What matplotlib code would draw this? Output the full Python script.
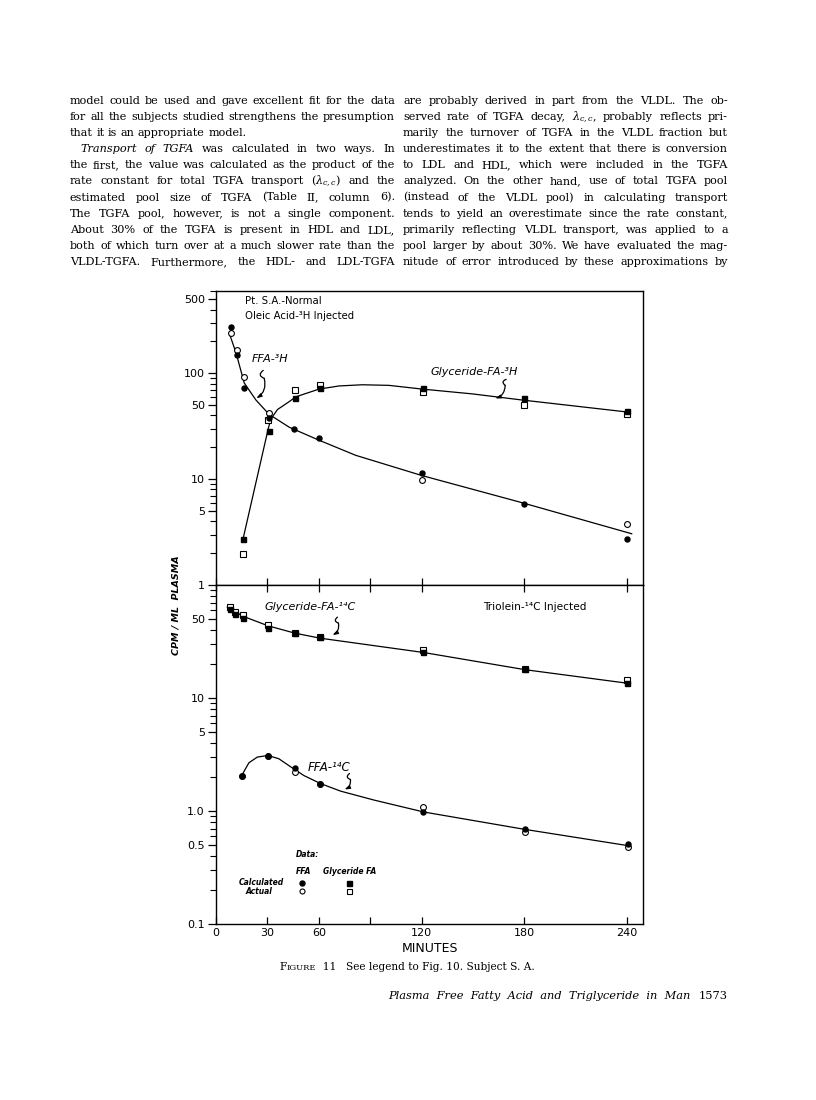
import matplotlib
matplotlib.use("Agg")
import matplotlib.pyplot as plt
import matplotlib.transforms as mtransforms
from matplotlib.ticker import FixedLocator, LogLocator, NullFormatter

plt.rcParams["font.family"] = ["DejaVu Sans"]
plt.rcParams["mathtext.fontset"] = "dejavuserif"

# --- top panel: oleic acid-3H injected ---
TIME_FFA3H_CALC = [9, 12, 16.5, 31, 45.5, 60, 120, 180, 240]
FFA3H_CALC = [275, 150, 73, 38, 29.5, 24.5, 11.5, 5.8, 2.7]
TIME_FFA3H_ACT = [9, 12, 16.5, 31, 120, 240]
FFA3H_ACT = [240, 165, 92, 42, 9.9, 3.8]
TIME_GLY3H_CALC = [15.5, 31, 46, 61, 121, 180, 240]
GLY3H_CALC = [2.7, 28.7, 59, 72, 72, 58, 44.5]
TIME_GLY3H_ACT = [15.5, 30.5, 46, 61, 121, 180, 240]
GLY3H_ACT = [1.95, 36, 69, 77, 67, 50, 41]

# hand-drawn fitted curves
FFA3H_FIT_T = [8.2, 11.7, 16.5, 23.3, 31, 42.7, 60, 81.6, 120.4, 178.6, 242.7]
FFA3H_FIT = [228, 156, 81, 56, 41, 31, 23.4, 16.8, 10.8, 6.0, 3.05]
GLY3H_FIT_T = [15.5, 30.5, 32, 35.9, 42.7, 46.6, 60.2, 71.8, 85.4, 101, 120.4, 149.5, 178.6, 240.8]
GLY3H_FIT = [2.6, 30, 37, 45.5, 54, 60, 71, 76, 78, 77, 71, 64, 56, 43]

# --- bottom panel: triolein-14C injected ---
TIME_GLY14C = [8, 11, 16, 30.5, 46, 61, 121, 180.5, 240]
GLY14C_CALC = [61, 55.5, 51.5, 42, 37.5, 34.5, 25.3, 18, 13.6]
GLY14C_ACT = [64, 58, 54, 44, 37.5, 34.5, 26.7, 18, 14.5]
TIME_FFA14C_CALC = [15, 30.5, 46, 61, 121, 180.5, 240.5]
FFA14C_CALC = [2.06, 3.06, 2.4, 1.75, 0.97, 0.70, 0.515]
TIME_FFA14C_ACT = [15, 30.5, 46, 61, 121, 180.5, 240.5]
FFA14C_ACT = [2.06, 3.06, 2.21, 1.75, 1.09, 0.65, 0.48]

GLY14C_FIT_T = [6.6, 16.3, 30.5, 46, 61, 121, 180.5, 242]
GLY14C_FIT = [63.5, 52.5, 43.5, 37.5, 33.8, 25.3, 17.8, 13.4]
FFA14C_FIT_T = [15, 19.2, 24.1, 30.3, 36.7, 43.6, 51.3, 61, 72.7, 92.2, 121.3, 179.7, 241.9]
FFA14C_FIT = [2.06, 2.67, 3.0, 3.1, 2.9, 2.46, 2.06, 1.75, 1.5, 1.25, 0.98, 0.69, 0.49]

X_TICKS = [0, 30, 60, 90, 120, 180, 240]
X_TICK_LABELS = ["0", "30", "60", "", "120", "180", "240"]
TOP_Y_TICKS = [1, 5, 10, 50, 100, 500]
TOP_Y_LABELS = ["1", "5", "10", "50", "100", "500"]
BOT_Y_TICKS = [0.1, 0.5, 1.0, 5, 10, 50]
BOT_Y_LABELS = ["0.1", "0.5", "1.0", "5", "10", "50"]

LEFT_COLUMN = [
    "model could be used and gave excellent fit for the data",
    "for all the subjects studied strengthens the presumption",
    "that it is an appropriate model.",
    "*Transport* *of* *TGFA* was calculated in two ways. In",
    "the first, the value was calculated as the product of the",
    r"rate constant for total TGFA transport ($\lambda_{c,c}$) and the",
    "estimated pool size of TGFA (Table II, column 6).",
    "The TGFA pool, however, is not a single component.",
    "About 30% of the TGFA is present in HDL and LDL,",
    "both of which turn over at a much slower rate than the",
    "VLDL-TGFA. Furthermore, the HDL- and LDL-TGFA",
]
RIGHT_COLUMN = [
    "are probably derived in part from the VLDL. The ob-",
    r"served rate of TGFA decay, $\lambda_{c,c}$, probably reflects pri-",
    "marily the turnover of TGFA in the VLDL fraction but",
    "underestimates it to the extent that there is conversion",
    "to LDL and HDL, which were included in the TGFA",
    "analyzed. On the other hand, use of total TGFA pool",
    "(instead of the VLDL pool) in calculating transport",
    "tends to yield an overestimate since the rate constant,",
    "primarily reflecting VLDL transport, was applied to a",
    "pool larger by about 30%. We have evaluated the mag-",
    "nitude of error introduced by these approximations by",
]

W, H = 816, 1100
fig = plt.figure(figsize=(W / 100, H / 100), dpi=100)
renderer = fig.canvas.get_renderer()
PIX = mtransforms.IdentityTransform()
SERIF = "DejaVu Serif"
BODY = 8.1
MIN_GAP = 2.8


def put_words(words, x0, x1, ytop, justify, size=BODY):
    """Place words of one text line in pixel coords, optionally justified."""
    texts = []
    for w in words:
        style = "normal"
        if w.startswith("*") and w.endswith("*"):
            style, w = "italic", w[1:-1]
        texts.append(fig.text(0, 0, w, fontsize=size, family=SERIF, style=style,
                              transform=PIX, va="baseline"))
    widths = [t.get_window_extent(renderer).width for t in texts]
    n = len(texts)
    if justify and (x1 - x0 - sum(widths)) / (n - 1) < MIN_GAP:
        # shrink this line a little so the words keep a sensible gap
        scale = (x1 - x0 - MIN_GAP * (n - 1)) / sum(widths)
        for t in texts:
            t.set_fontsize(size * scale)
        widths = [t.get_window_extent(renderer).width for t in texts]
    gap = (x1 - x0 - sum(widths)) / (n - 1) if justify else size * 0.42
    x = x0
    for t, wd in zip(texts, widths):
        t.set_position((x, H - ytop))
        x += wd + gap


def put_column(lines, x0, x1, y0, step):
    for i, line in enumerate(lines):
        indent = 10 if line.startswith("*Transport") else 0
        last = line.endswith("model.")
        put_words(line.split(" "), x0 + indent, x1, y0 + i * step, not last)


put_column(LEFT_COLUMN, 70, 395, 104, 16.1)
put_column(RIGHT_COLUMN, 403, 728, 104, 16.1)


def put_pieces(pieces, x, ytop):
    for txt, size, style in pieces:
        t = fig.text(x, H - ytop, txt, fontsize=size, family=SERIF, style=style,
                     transform=PIX, va="baseline")
        x += t.get_window_extent(renderer).width


put_pieces([("F", 7.6, "normal"), ("IGURE", 6.0, "normal"), ("  11   ", 7.6, "normal"),
            ("See legend to Fig. 10. Subject S. A.", 7.6, "normal")], 279, 970)
put_pieces([("Plasma  Free  Fatty  Acid  and  Triglyceride  in  Man", 8.2, "italic")], 388, 999)
fig.text(728, H - 999, "1573", fontsize=8.2, family=SERIF, transform=PIX,
         va="baseline", ha="right")

# --- chart axes ---
ax_l, ax_r = 216, 643
ax_top = fig.add_axes([ax_l / W, 1 - 585 / H, (ax_r - ax_l) / W, 294 / H])
ax_bot = fig.add_axes([ax_l / W, 1 - 924 / H, (ax_r - ax_l) / W, 339 / H])

MS_F, MS_O = 3.6, 4.2


def markers(ax, t, v, marker, filled):
    if filled:
        ax.plot(t, v, ls="none", marker=marker, ms=MS_F, mfc="black", mec="black", zorder=4)
    else:
        ax.plot(t, v, ls="none", marker=marker, ms=MS_O, mfc="white", mec="black",
                mew=0.8, zorder=3)


ax_top.plot(FFA3H_FIT_T, FFA3H_FIT, color="black", lw=0.9, zorder=2)
ax_top.plot(GLY3H_FIT_T, GLY3H_FIT, color="black", lw=0.9, zorder=2)
markers(ax_top, TIME_FFA3H_ACT, FFA3H_ACT, "o", False)
markers(ax_top, TIME_FFA3H_CALC, FFA3H_CALC, "o", True)
markers(ax_top, TIME_GLY3H_ACT, GLY3H_ACT, "s", False)
markers(ax_top, TIME_GLY3H_CALC, GLY3H_CALC, "s", True)

ax_bot.plot(GLY14C_FIT_T, GLY14C_FIT, color="black", lw=0.9, zorder=2)
ax_bot.plot(FFA14C_FIT_T, FFA14C_FIT, color="black", lw=0.9, zorder=2)
markers(ax_bot, TIME_GLY14C, GLY14C_ACT, "s", False)
markers(ax_bot, TIME_GLY14C, GLY14C_CALC, "s", True)
markers(ax_bot, TIME_FFA14C_ACT, FFA14C_ACT, "o", False)
markers(ax_bot, TIME_FFA14C_CALC, FFA14C_CALC, "o", True)

for ax, lim, ticks, labels in [(ax_top, (1, 600), TOP_Y_TICKS, TOP_Y_LABELS),
                               (ax_bot, (0.1, 100), BOT_Y_TICKS, BOT_Y_LABELS)]:
    ax.set_yscale("log")
    ax.set_ylim(*lim)
    ax.set_xlim(0, 249.3)
    ax.yaxis.set_major_locator(FixedLocator(ticks))
    ax.set_yticklabels(labels)
    ax.yaxis.set_minor_locator(LogLocator(subs=(2, 3, 4, 6, 7, 8, 9)))
    ax.yaxis.set_minor_formatter(NullFormatter())
    ax.set_xticks(X_TICKS)
    ax.tick_params(axis="y", which="major", direction="out", length=6, width=0.9,
                   labelsize=8, pad=2)
    ax.tick_params(axis="y", which="minor", direction="out", length=4, width=0.8)
    ax.tick_params(axis="x", direction="in", length=5, width=0.9, labelsize=8)
    for s in ax.spines.values():
        s.set_linewidth(1.0)

ax_top.tick_params(axis="x", labelbottom=False)
ax_bot.tick_params(axis="x", top=True, pad=3)
ax_bot.set_xticklabels(X_TICK_LABELS)
ax_bot.set_xlabel("MINUTES", fontsize=9, labelpad=3)
fig.text(176 / W, 1 - 605 / H, "CPM / ML  PLASMA", rotation=90, fontsize=6.8,
         style="italic", weight="bold", ha="center", va="center")

# --- in-plot texts ---
ax_top.text(0.068, 0.966, "Pt. S.A.-Normal", transform=ax_top.transAxes, fontsize=7.3,
            va="center")
ax_top.text(0.068, 0.915, "Oleic Acid-³H Injected", transform=ax_top.transAxes,
            fontsize=7.3, va="center")
ax_bot.text(0.625, 0.935, "Triolein-¹⁴C Injected", transform=ax_bot.transAxes,
            fontsize=7.6, va="center")

ax_top.text(21, 138, "FFA-³H", fontsize=8, style="italic", va="center")
ax_top.text(125, 102, "Glyceride-FA-³H", fontsize=8, style="italic", va="center")
ax_bot.text(28.6, 63.8, "Glyceride-FA-¹⁴C", fontsize=8, style="italic", va="center")
ax_bot.text(53.7, 2.45, "FFA-¹⁴C", fontsize=8.5, style="italic", va="center")


def squiggle(ax, tip, start_off, mid_off):
    def tr(dx, dy):
        return mtransforms.offset_copy(ax.transData, fig=fig, x=dx, y=dy, units="dots")
    ax.annotate("", xy=tip, xycoords=tr(*mid_off), xytext=tip, textcoords=tr(*start_off),
                arrowprops=dict(arrowstyle="-", lw=0.9, shrinkA=0, shrinkB=0,
                                connectionstyle="arc3,rad=0.9"))
    ax.annotate("", xy=tip, xycoords="data", xytext=tip, textcoords=tr(*mid_off),
                arrowprops=dict(arrowstyle="-|>,head_length=0.3,head_width=0.1",
                                lw=0.9, color="black", shrinkA=0, shrinkB=0,
                                connectionstyle="arc3,rad=-0.35"))


squiggle(ax_top, (23.5, 58), (7, 28), (8, 20))
squiggle(ax_top, (163, 58), (11, 19), (10, 13))
squiggle(ax_bot, (68, 36), (5, 18), (6, 12))
squiggle(ax_bot, (75, 1.55), (5, 16), (6, 10))

# --- key for the data symbols ---
ta = ax_bot.transAxes
ax_bot.text(0.215, 0.204, "Data:", transform=ta, fontsize=5.5, style="italic",
            weight="bold", ha="center", va="center")
ax_bot.text(0.204, 0.156, "FFA", transform=ta, fontsize=5.5, style="italic",
            weight="bold", ha="center", va="center")
ax_bot.text(0.314, 0.156, "Glyceride FA", transform=ta, fontsize=5.5, style="italic",
            weight="bold", ha="center", va="center")
ax_bot.text(0.159, 0.121, "Calculated", transform=ta, fontsize=5.5, style="italic",
            weight="bold", ha="right", va="center")
ax_bot.text(0.131, 0.097, "Actual", transform=ta, fontsize=5.5, style="italic",
            weight="bold", ha="right", va="center")
ax_bot.plot([0.201], [0.121], "o", ms=MS_F, color="black", transform=ta)
ax_bot.plot([0.201], [0.097], "o", ms=MS_O - 0.6, mfc="white", mec="black", mew=0.8,
            transform=ta)
ax_bot.plot([0.311], [0.121], "s", ms=MS_F, color="black", transform=ta)
ax_bot.plot([0.311], [0.097], "s", ms=MS_O - 0.6, mfc="white", mec="black", mew=0.8,
            transform=ta)

fig.savefig("out.png", dpi=100)
